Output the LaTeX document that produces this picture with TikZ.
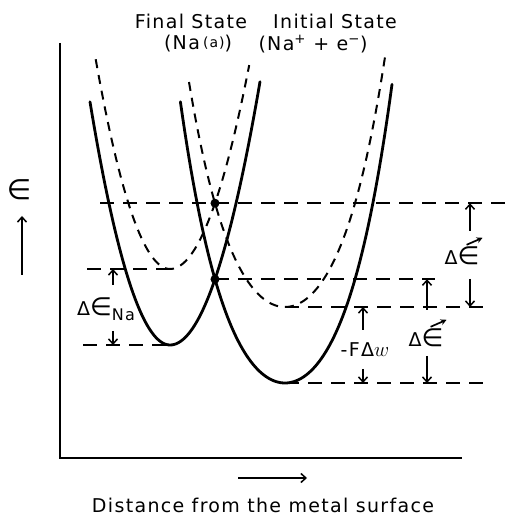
\documentclass[tikz,border=0pt]{standalone}
\usepackage{fontspec}
\setmainfont{DejaVu Sans}[LetterSpace=7]
\usetikzlibrary{arrows.meta,intersections}
\newcommand{\dlt}{{\fontsize{19}{21}\selectfont Δ}}
\newcommand{\bigeps}{{\fontsize{25}{27}\selectfont ∈}}
\begin{document}
\begin{tikzpicture}[x=1pt,y=-1pt,
  lbl/.style={inner sep=0pt, font=\fontsize{19}{22}\selectfont},
  axisline/.style={line width=1.4pt},
  solidcurve/.style={line width=2.8pt, line cap=round},
  dashcurve/.style={line width=2pt, dash pattern=on 9pt off 7pt},
  level/.style={line width=1.7pt, dash pattern=on 14pt off 9pt},
  gap/.style={line width=1.5pt, -{Straight Barb[length=5pt,width=9pt]}},
  vecarrow/.style={line width=1.7pt, -{Stealth[length=6pt,width=6pt]}},
  dot/.style={circle, fill, inner sep=0pt, minimum size=9pt},
]
\useasboundingbox (0,0) rectangle (522,518);
% axes
\coordinate (ytop) at (60,43);
\coordinate (orig) at (60,458);
\coordinate (xend) at (462,458);
\draw[axisline] (ytop) -- (orig) -- (xend);
% curves
\draw[solidcurve, name path=fs] plot[domain=90:170, samples=40] (\x,{345-0.038*(abs(\x-170))^2})
  -- plot[domain=170:260, samples=45] (\x,{345-0.0325*(abs(\x-170))^2});
\draw[dashcurve, name path=fd] plot[domain=95.7:170, samples=40] (\x,{269-0.038*(abs(\x-170))^2})
  -- plot[domain=170:249.2, samples=45] (\x,{269-0.0325*(abs(\x-170))^2});
\draw[solidcurve, name path=is] plot[domain=180.4:392, samples=100] (\x,{383-1.75*(abs(\x-285)/10)^2-75*(abs(\x-285)/100)^4});
\draw[dashcurve, name path=id] plot[domain=189:385, samples=100] (\x,{307-1.75*(abs(\x-285)/10)^2-75*(abs(\x-285)/100)^4});
\path[name intersections={of=fs and is, by=xs}];
\path[name intersections={of=fd and id, by=xd}];
\node[dot] (dots) at (xs) {};
\node[dot] (dotd) at (xd) {};
% levels
\coordinate (fdmin) at (170,269);
\coordinate (fsmin) at (170,345);
\coordinate (idmin) at (285,307);
\coordinate (ismin) at (285,383);
\coordinate (c100) at (100,0);
\coordinate (c505) at (505,0);
\coordinate (c87) at (87,0);
\coordinate (c83) at (83,0);
\coordinate (c435) at (435,0);
\coordinate (c492) at (492,0);
\draw[level] (c100 |- xd) -- (c505 |- xd);
\draw[level] (c87 |- fdmin) -- (fdmin);
\draw[level] (c83 |- fsmin) -- (fsmin);
\draw[level] (xs) -- (c435 |- xs);
\draw[level] (idmin) -- (c492 |- idmin);
\draw[level] (ismin) -- (c492 |- ismin);
% dimension arrows
\coordinate (na1) at (113,285);
\coordinate (na2) at (113,331);
\coordinate (fw1) at (363,330);
\coordinate (fw2) at (363,369);
\coordinate (ea1) at (470,231);
\coordinate (ea2) at (470,279);
\coordinate (eb1) at (427,310);
\coordinate (eb2) at (427,356);
\draw[gap] (na1) -- (na1 |- fdmin);
\draw[gap] (na2) -- (na2 |- fsmin);
\draw[gap] (fw1) -- (fw1 |- idmin);
\draw[gap] (fw2) -- (fw2 |- ismin);
\draw[gap] (ea1) -- (ea1 |- xd);
\draw[gap] (ea2) -- (ea2 |- idmin);
\draw[gap] (eb1) -- (eb1 |- xs);
\draw[gap] (eb2) -- (eb2 |- ismin);
\node[lbl] (lna) at (106,309) {\dlt\bigeps\raisebox{-0.5ex}{\fontsize{16}{18}\selectfont Na}};
\node[lbl] (lfw) at (365,350) {-F\dlt{\fontsize{21}{23}\selectfont$w$}};
\node[lbl] (lea) at (462,256) {\dlt\bigeps};
\node[lbl] (leb) at (426,338) {\dlt\bigeps};
\draw[vecarrow] ([xshift=-13pt,yshift=2pt]lea.north east) -- ([xshift=3pt,yshift=9pt]lea.north east);
\draw[vecarrow] ([xshift=-13pt,yshift=2pt]leb.north east) -- ([xshift=3pt,yshift=9pt]leb.north east);
% axis labels
\coordinate (ar1) at (22,275);
\coordinate (ar2) at (22,216);
\draw[gap] (ar1) -- (ar2);
\node[inner sep=0pt, font=\fontsize{28}{30}\selectfont] (eps) at (19,190) {∈};
\coordinate (br1) at (238,478);
\coordinate (br2) at (307,478);
\draw[gap] (br1) -- (br2);
\node[lbl] (dist) at (263,505) {Distance from the metal surface};
\node[lbl] (fin) at (191,21) {Final State};
\node[lbl] (finp) at (198,44) {(Na\,\raisebox{0.25ex}{\fontsize{14}{16}\selectfont(a)})};
\node[lbl] (ini) at (335,21) {Initial State};
\node[lbl] (inip) at (313,44) {(Na\textsuperscript{+} + e\textsuperscript{−})};
\end{tikzpicture}
\end{document}
